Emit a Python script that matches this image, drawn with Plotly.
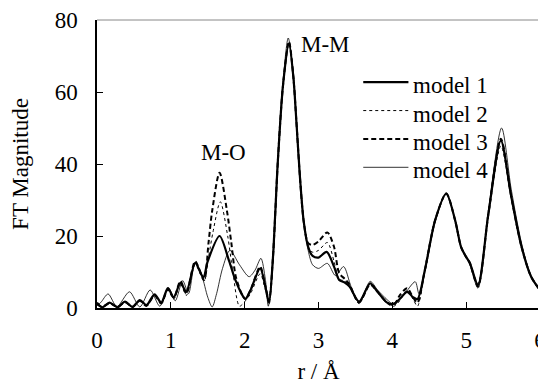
import plotly.graph_objects as go

# ---- data ----
r_m1 = [0.00, 0.07, 0.17, 0.28, 0.38, 0.48, 0.58, 0.67, 0.78, 0.87, 0.96, 1.04, 1.13, 1.21, 1.33, 1.44, 1.50, 1.66, 1.79, 1.87, 1.97, 2.01, 2.08, 2.21, 2.28, 2.33, 2.38, 2.45, 2.52, 2.60, 2.66, 2.70, 2.75, 2.80, 2.86, 2.92, 3.00, 3.11, 3.21, 3.28, 3.36, 3.42, 3.55, 3.70, 3.80, 3.93, 4.02, 4.10, 4.20, 4.28, 4.34, 4.44, 4.58, 4.73, 4.85, 4.93, 4.99, 5.05, 5.16, 5.30, 5.47, 5.61, 5.75, 5.88, 6.00]
y_m1 = [1.5, 0.2, 1.5, 0.2, 1.8, 0.3, 2.2, 0.8, 3.8, 1.5, 5.5, 3.0, 7.0, 4.5, 12.5, 8.5, 13.0, 20.0, 13.0, 8.0, 3.5, 2.5, 5.0, 11.0, 6.0, 1.5, 13.0, 41.0, 62.0, 73.5, 64.0, 52.0, 36.0, 24.0, 17.0, 14.5, 14.0, 15.6, 11.5, 7.8, 7.0, 6.0, 1.8, 6.8, 4.5, 1.5, 1.2, 2.5, 4.5, 3.0, 2.5, 10.5, 24.4, 31.8, 24.4, 17.0, 14.5, 12.5, 6.4, 26.0, 46.5, 31.0, 17.0, 8.7, 5.0]

r_m2 = [0.00, 0.07, 0.17, 0.28, 0.38, 0.48, 0.58, 0.67, 0.78, 0.87, 0.96, 1.04, 1.13, 1.21, 1.33, 1.45, 1.51, 1.57, 1.67, 1.77, 1.84, 1.93, 2.01, 2.08, 2.21, 2.28, 2.33, 2.38, 2.45, 2.52, 2.60, 2.66, 2.70, 2.75, 2.80, 2.86, 2.92, 3.00, 3.12, 3.21, 3.28, 3.36, 3.42, 3.55, 3.70, 3.80, 3.93, 4.02, 4.10, 4.20, 4.28, 4.34, 4.44, 4.58, 4.73, 4.85, 4.93, 4.99, 5.05, 5.16, 5.30, 5.47, 5.61, 5.75, 5.88, 6.00]
y_m2 = [1.2, 0.2, 1.4, 0.2, 1.7, 0.2, 2.1, 0.5, 3.6, 1.0, 5.0, 2.5, 6.8, 3.5, 12.0, 7.5, 14.0, 21.0, 29.5, 20.0, 10.0, 0.5, 2.0, 4.0, 9.5, 5.0, 1.0, 12.5, 41.0, 62.0, 74.0, 64.0, 52.0, 36.0, 24.0, 17.0, 15.5, 16.0, 18.2, 13.0, 8.0, 7.5, 6.0, 1.2, 7.0, 4.8, 1.2, 0.5, 2.0, 5.0, 2.5, 0.5, 10.0, 24.4, 31.5, 24.4, 17.0, 14.5, 12.5, 6.8, 25.5, 45.0, 30.5, 17.0, 8.7, 5.0]

r_m3 = [0.00, 0.07, 0.17, 0.28, 0.38, 0.48, 0.58, 0.67, 0.78, 0.87, 0.96, 1.04, 1.13, 1.21, 1.33, 1.45, 1.51, 1.56, 1.66, 1.76, 1.82, 1.88, 1.97, 2.01, 2.08, 2.21, 2.28, 2.33, 2.38, 2.45, 2.52, 2.60, 2.66, 2.70, 2.75, 2.80, 2.86, 2.92, 3.00, 3.12, 3.21, 3.28, 3.36, 3.42, 3.55, 3.70, 3.80, 3.93, 4.02, 4.10, 4.20, 4.28, 4.34, 4.44, 4.58, 4.73, 4.85, 4.93, 4.99, 5.05, 5.16, 5.30, 5.47, 5.61, 5.75, 5.88, 6.00]
y_m3 = [1.0, 0.3, 1.3, 0.3, 1.6, 0.3, 2.0, 0.6, 3.5, 1.3, 5.2, 2.8, 7.5, 4.0, 13.0, 7.8, 18.0, 27.0, 37.6, 27.0, 18.0, 8.7, 3.5, 2.5, 5.0, 11.5, 6.0, 2.0, 13.0, 41.0, 62.0, 74.0, 64.0, 52.0, 36.0, 24.0, 18.0, 17.5, 18.5, 21.0, 17.0, 9.7, 8.0, 6.5, 1.5, 6.5, 4.5, 1.5, 0.8, 3.5, 5.5, 3.0, 1.5, 10.5, 24.4, 31.8, 24.4, 17.0, 14.5, 12.5, 6.0, 26.0, 47.0, 31.0, 17.0, 8.7, 5.0]

r_m4 = [0.00, 0.05, 0.15, 0.27, 0.44, 0.58, 0.72, 0.85, 0.97, 1.06, 1.16, 1.24, 1.33, 1.42, 1.50, 1.56, 1.62, 1.70, 1.80, 1.93, 2.06, 2.14, 2.22, 2.28, 2.32, 2.38, 2.45, 2.52, 2.59, 2.66, 2.70, 2.75, 2.80, 2.86, 2.92, 3.00, 3.12, 3.23, 3.34, 3.44, 3.55, 3.70, 3.80, 3.93, 4.02, 4.15, 4.31, 4.36, 4.44, 4.58, 4.73, 4.85, 4.93, 4.99, 5.05, 5.16, 5.30, 5.48, 5.61, 5.75, 5.88, 6.00]
y_m4 = [0.8, 1.5, 3.9, 0.4, 4.5, 0.3, 5.0, 0.5, 5.5, 2.0, 7.6, 4.0, 12.8, 9.0, 3.0, 0.3, 4.0, 11.0, 16.0, 12.0, 8.7, 10.5, 13.8, 8.0, 0.5, 12.0, 41.0, 63.0, 75.0, 65.0, 52.0, 36.0, 24.0, 16.0, 12.0, 11.0, 12.4, 9.0, 11.5, 6.0, 1.5, 7.4, 5.0, 2.3, 1.0, 3.5, 7.3, 4.0, 10.0, 24.0, 31.8, 24.4, 17.0, 14.5, 12.0, 5.5, 27.0, 50.0, 33.0, 18.0, 8.7, 5.0]

series_names = ["model 1", "model 2", "model 3", "model 4"]
x_ticks = [0, 1, 2, 3, 4, 5, 6]
y_ticks = [0, 20, 40, 60, 80]
peak_labels = ["M-O", "M-M"]
peak_pos_r = [1.71, 3.09]
peak_pos_y = [43.3, 73.2]

FONT = "Liberation Serif"
FS = 23

styles = [
    dict(width=2.2, dash="solid"),
    dict(width=1.0, dash="dot"),
    dict(width=2.0, dash="5px,3px"),
    dict(width=0.8, dash="solid"),
]

fig = go.Figure()
for name, rx, ry, st in zip(series_names, [r_m1, r_m2, r_m3, r_m4],
                            [y_m1, y_m2, y_m3, y_m4], styles):
    fig.add_trace(go.Scatter(
        x=rx, y=ry, mode="lines", name=name, showlegend=False,
        line=dict(color="black", width=st["width"], dash=st["dash"],
                  shape="spline", smoothing=0.8),
    ))

# legend drawn as line samples + text (paper coordinates)
leg_x0, leg_x1, leg_tx = 0.601, 0.703, 0.708
leg_y_top, leg_dy = 0.784, 0.0985
for i, (name, st) in enumerate(zip(series_names, styles)):
    yy = leg_y_top - i * leg_dy
    fig.add_shape(type="line", xref="paper", yref="paper",
                  x0=leg_x0, x1=leg_x1, y0=yy, y1=yy,
                  line=dict(color="black", width=st["width"], dash=st["dash"]))
    fig.add_annotation(xref="paper", yref="paper", x=leg_tx, y=yy - 0.012,
                       text=name, showarrow=False, xanchor="left", yanchor="middle",
                       font=dict(family=FONT, size=FS, color="black"))

for lab, rx, ry in zip(peak_labels, peak_pos_r, peak_pos_y):
    fig.add_annotation(x=rx, y=ry, text=lab, showarrow=False,
                       font=dict(family=FONT, size=FS, color="black"))

fig.add_shape(type="line", xref="paper", yref="paper", x0=0, x1=1, y0=1, y1=1,
              line=dict(color="#888888", width=1))

# the page body adds an 8px offset, so the figure is sized to fit the window
fig.update_layout(
    width=538, height=376,
    margin=dict(l=89, r=6, t=12, b=76),
    paper_bgcolor="white", plot_bgcolor="white",
    font=dict(family=FONT, size=FS, color="black"),
    showlegend=False,
    xaxis=dict(range=[0, 6], tickvals=x_ticks, ticks="inside", ticklen=6,
               tickcolor="black", showline=True, linecolor="black", linewidth=1.5,
               showgrid=False, zeroline=False, ticklabelstandoff=11,
               ticklabeloverflow="allow", automargin=False,
               title=dict(text="r / Å", font=dict(family=FONT, size=FS), standoff=12)),
    yaxis=dict(range=[0, 80], tickvals=y_ticks, ticks="inside", ticklen=6,
               tickcolor="black", showline=True, linecolor="black", linewidth=1.5,
               showgrid=False, zeroline=False, ticklabelstandoff=13,
               ticklabeloverflow="allow", automargin=False,
               title=dict(text="FT Magnitude", font=dict(family=FONT, size=FS), standoff=21)),
)

fig.write_html("out.html")
